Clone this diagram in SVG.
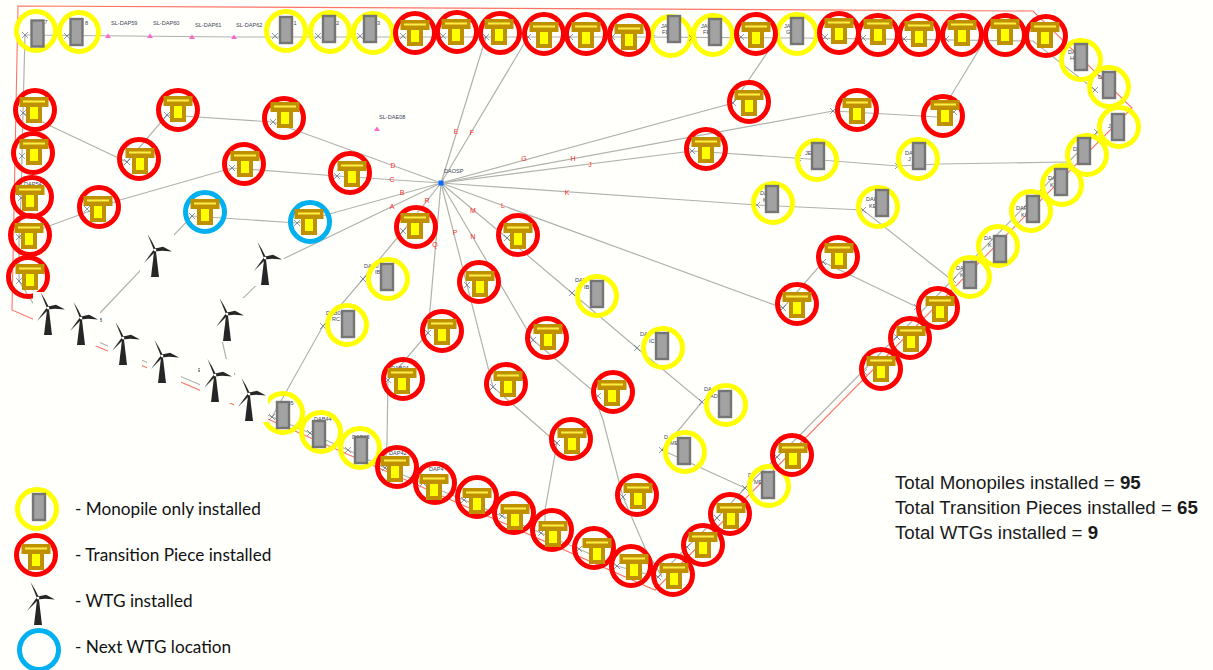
<svg xmlns="http://www.w3.org/2000/svg" xmlns:xlink="http://www.w3.org/1999/xlink" width="1213" height="670" viewBox="0 0 1213 670">
<style>
.bg{fill:#fffffc}
.y,.r,.b{fill:none;stroke-width:5}
.y{stroke:#ffff00}.r{stroke:#ff0000}.b{stroke:#00b0f0}
.c{fill:none;stroke:#b2b2ac;stroke-width:1.2}
.edge{fill:none;stroke:#ff7466;stroke-width:1.1}
.lb{font-family:"Liberation Sans",Arial,sans-serif;font-size:5.6px;fill:#3c4656}
.cb{font-family:"Liberation Sans",Arial,sans-serif;font-size:7px;fill:#ff2a2a;text-anchor:middle}
.tot{font-family:"Liberation Sans",Arial,sans-serif;font-size:18.7px;fill:#1a1a1a}
.lg{font-family:Lato,"Open Sans",sans-serif;font-size:17.2px;fill:#111}
.tri{fill:#ff66cc}
</style>
<defs>
<g id="x"><path d="M-3,-3L3,3M-3,3L3,-3" fill="none" stroke="#5a6a82" stroke-width="0.8" opacity="0.85"/></g>
<g id="mp"><rect x="-6" y="-13" width="12" height="26" fill="#a2a2a2" stroke="#757575" stroke-width="2.4"/></g>
<g id="tp"><rect x="-8" y="-3" width="16" height="16" fill="#ffff00"/><path d="M-8,-3H-4V9H4V-3H8V13H-8Z" fill="#bf9000"/><rect x="-14.5" y="-13" width="29" height="10" fill="#bf9000"/><rect x="-11" y="-9.5" width="22" height="2" fill="#ffee44"/></g>
<g id="wt"><rect x="-15" y="-16" width="34" height="44" class="bg"/><path d="M-1,2H1L4,27H-4Z" fill="#262626"/><path d="M-1.5,-1L-7.5,-16L-3,-8.5L1,-0.5Z" fill="#262626"/><path d="M0,-1.5L8,-3.2L17,1.5L7,0.8L0,1.5Z" fill="#262626"/><path d="M-1,-0.8L-11,13L-4.5,6.5L1,1Z" fill="#262626"/><circle r="1.3" fill="#fffffc"/></g>
</defs>
<rect class="bg" width="1213" height="670"/>
<g id="connectors">
<path class="edge" d="M18,6L1033,11L1132,108L655,590L270,420L35,320L12,310Z"/>
<polyline class="c" points="25,35 234,37 640,37 800,38 1033,41 1095,90"/>
<polyline class="c" points="25,35 23,113 22,156 21,198 19,237 19,281 33,303 63,327 196,383 272,417 310,433 348,450 385,468 423,483 464,500 502,516 541,533 579,549 617,566 658,577 687,547 717,518 745,488 777,457 800,435 1097,133"/>
<polyline class="c" points="441,183 486,37"/>
<polyline class="c" points="441,183 528,37"/>
<polyline class="c" points="441,183 733,103 767,53"/>
<polyline class="c" points="441,183 833,111 938,117 983,43"/>
<polyline class="c" points="441,183 692,151 795,158 898,166 940,164 1067,162"/>
<polyline class="c" points="441,183 757,205 863,210 948,277"/>
<polyline class="c" points="441,183 783,308 823,262 917,307"/>
<polyline class="c" points="441,183 507,238 572,293 637,348 702,402 662,450 745,488"/>
<polyline class="c" points="441,183 533,340 592,390 603,420 623,497 645,548 662,577"/>
<polyline class="c" points="441,183 493,387 557,443 545,510 545,528"/>
<polyline class="c" points="441,183 428,333 388,380 387,443 385,468"/>
<polyline class="c" points="441,183 403,231 363,279 323,326 272,417"/>
<polyline class="c" points="441,183 283,259 227,314 222,340 226,358 235,375"/>
<polyline class="c" points="441,183 297,223 192,216 100,313"/>
<polyline class="c" points="441,183 337,176 232,168 120,200 19,237"/>
<polyline class="c" points="441,183 273,122 167,115 127,162 23,113"/>
</g>
<g id="site-marks">
<path class="tri" d="M108,33.5l3,4.5h-6zM150,33.5l3,4.5h-6zM192,34.5l3,4.5h-6zM234,34.5l3,4.5h-6zM377,126.500l3,4.500h-6z"/>
<text class="lb" x="111" y="25">SL-DAP59</text><text class="lb" x="153" y="25">SL-DAP60</text><text class="lb" x="195" y="26.500">SL-DAP61</text><text class="lb" x="236" y="26.500">SL-DAP62</text><text class="lb" x="379" y="118.500">SL-DAE08</text>
<text class="lb" x="444" y="173">DAOSP</text>
<rect x="438.500" y="180.500" width="5" height="5" fill="#0a6cff"/>
<text class="cb" x="456" y="134">E</text><text class="cb" x="472" y="135">F</text><text class="cb" x="524" y="161">G</text><text class="cb" x="573" y="161">H</text><text class="cb" x="590" y="167">J</text><text class="cb" x="567" y="195">K</text><text class="cb" x="503" y="208">L</text><text class="cb" x="473" y="213">M</text><text class="cb" x="473" y="239">N</text><text class="cb" x="455" y="235">P</text><text class="cb" x="435" y="247">Q</text><text class="cb" x="427" y="203">R</text><text class="cb" x="392" y="209">A</text><text class="cb" x="402" y="195">B</text><text class="cb" x="392" y="182">C</text><text class="cb" x="393" y="168">D</text>
<text class="lb" x="172" y="252">I</text><text class="lb" x="99" y="322">8</text><text class="lb" x="198" y="372">E</text><text class="lb" x="233" y="401">K</text>
</g>
<g id="monopiles">
<g id="m1"><text class="lb" x="44.500" y="24">7</text><use href="#x" x="25" y="35"/><circle class="y" cx="36" cy="31" r="19.500"/><use href="#mp" x="37.500" y="33.500"/></g>
<g id="m2"><text class="lb" x="85" y="25">8</text><use href="#x" x="67" y="36"/><circle class="y" cx="79" cy="32" r="19.500"/><use href="#mp" x="76.500" y="32"/></g>
<g id="m3"><text class="lb" x="293.500" y="25">1</text><use href="#x" x="275" y="36"/><circle class="y" cx="286" cy="31" r="19.500"/><use href="#mp" x="286" y="30"/></g>
<g id="m4"><text class="lb" x="336" y="25">2</text><use href="#x" x="318" y="36"/><circle class="y" cx="330" cy="32" r="19.500"/><use href="#mp" x="329" y="29"/></g>
<g id="m5"><text class="lb" x="377" y="25">3</text><use href="#x" x="360" y="36"/><circle class="y" cx="373" cy="33" r="19.500"/><use href="#mp" x="370" y="29"/></g>
<g id="m6"><text class="lb" x="661" y="28">JAP</text><text class="lb" x="662" y="34">FD</text><use href="#x" x="652" y="38"/><circle class="y" cx="671" cy="36" r="19.500"/><use href="#mp" x="674" y="29"/></g>
<g id="m7"><text class="lb" x="701" y="28">JAP</text><text class="lb" x="703" y="34">FE</text><use href="#x" x="692" y="38"/><circle class="y" cx="713" cy="35" r="19.500"/><use href="#mp" x="715" y="32"/></g>
<g id="m8"><text class="lb" x="784" y="28">JAP</text><text class="lb" x="786" y="34">G</text><circle class="y" cx="797" cy="34" r="19.500"/><use href="#mp" x="797" y="31"/></g>
<g id="m9"><text class="lb" x="1068" y="54">DAP</text><text class="lb" x="1070" y="60">H</text><circle class="y" cx="1081" cy="60" r="19.500"/><use href="#mp" x="1081" y="57"/></g>
<g id="m10"><text class="lb" x="1098" y="79">DA</text><use href="#x" x="1095" y="90"/><circle class="y" cx="1109" cy="87" r="19.500"/><use href="#mp" x="1109" y="85"/></g>
<g id="m11"><text class="lb" x="1108" y="128">J</text><use href="#x" x="1097" y="132"/><circle class="y" cx="1119" cy="127" r="19.500"/><use href="#mp" x="1118" y="127"/></g>
<g id="m12"><text class="lb" x="1073" y="151">D</text><circle class="y" cx="1087" cy="155" r="19.500"/><use href="#mp" x="1084" y="151"/></g>
<g id="m13"><text class="lb" x="1048" y="180">DAF</text><text class="lb" x="1050" y="187">KE</text><circle class="y" cx="1062" cy="185" r="19.500"/><use href="#mp" x="1061" y="182"/></g>
<g id="m14"><text class="lb" x="1016" y="210">DAF</text><text class="lb" x="1021" y="217">KI</text><circle class="y" cx="1031" cy="211" r="19.500"/><use href="#mp" x="1033" y="209"/></g>
<g id="m15"><text class="lb" x="984" y="240">DA</text><text class="lb" x="988" y="247">K</text><circle class="y" cx="998" cy="246" r="19.500"/><use href="#mp" x="1000" y="249"/></g>
<g id="m16"><text class="lb" x="956" y="270">DA</text><text class="lb" x="960" y="277">K</text><use href="#x" x="953" y="280"/><circle class="y" cx="970" cy="277" r="19.500"/><use href="#mp" x="970" y="275"/></g>
<g id="m17"><text class="lb" x="805" y="155">JE</text><use href="#x" x="798" y="158"/><circle class="y" cx="817" cy="160" r="19.500"/><use href="#mp" x="818" y="156"/></g>
<g id="m18"><text class="lb" x="905" y="155">DA</text><text class="lb" x="908" y="161">J</text><use href="#x" x="898" y="166"/><circle class="y" cx="918" cy="159" r="19.500"/><use href="#mp" x="919" y="156"/></g>
<g id="m19"><text class="lb" x="866" y="201">DAH</text><text class="lb" x="869" y="208">KE</text><use href="#x" x="863" y="210"/><circle class="y" cx="878" cy="207" r="19.500"/><use href="#mp" x="882" y="203"/></g>
<g id="m20"><text class="lb" x="760" y="195">DA</text><text class="lb" x="763" y="202">K</text><use href="#x" x="757" y="205"/><circle class="y" cx="773" cy="203" r="19.500"/><use href="#mp" x="772" y="199"/></g>
<g id="m21"><text class="lb" x="364" y="268">DAB0</text><text class="lb" x="375" y="274">IB</text><use href="#x" x="363" y="279"/><circle class="y" cx="388" cy="279" r="19.500"/><use href="#mp" x="387" y="277"/></g>
<g id="m22"><text class="lb" x="326" y="315">DAB0</text><text class="lb" x="332" y="321">RC</text><use href="#x" x="323" y="326"/><circle class="y" cx="347" cy="325" r="19.500"/><use href="#mp" x="348" y="324"/></g>
<g id="m23"><text class="lb" x="575" y="282">DAP</text><text class="lb" x="584" y="289">IB</text><use href="#x" x="572" y="293"/><circle class="y" cx="597" cy="296" r="19.500"/><use href="#mp" x="597" y="294"/></g>
<g id="m24"><text class="lb" x="640" y="336">DAP</text><text class="lb" x="649" y="343">IC</text><use href="#x" x="637" y="348"/><circle class="y" cx="663" cy="348" r="19.500"/><use href="#mp" x="662" y="346"/></g>
<g id="m25"><text class="lb" x="704" y="391">DA</text><text class="lb" x="710" y="398">AD</text><use href="#x" x="702" y="402"/><circle class="y" cx="726" cy="405" r="19.500"/><use href="#mp" x="725" y="404"/></g>
<g id="m26"><text class="lb" x="664" y="439">D</text><text class="lb" x="670" y="445">ME</text><use href="#x" x="662" y="450"/><circle class="y" cx="685" cy="452" r="19.500"/><use href="#mp" x="684" y="451"/></g>
<g id="m27"><text class="lb" x="748" y="477">D</text><text class="lb" x="754" y="484">ME</text><use href="#x" x="745" y="488"/><circle class="y" cx="769" cy="486" r="19.500"/><use href="#mp" x="768" y="485"/></g>
<g id="m28"><text class="lb" x="276" y="405">DAB05</text><use href="#x" x="272" y="417"/><circle class="y" cx="283" cy="413" r="19.500"/><use href="#mp" x="283" y="415"/></g>
<g id="m29"><text class="lb" x="314" y="421">DAB44</text><use href="#x" x="310" y="433"/><circle class="y" cx="321" cy="432" r="19.500"/><use href="#mp" x="319" y="434"/></g>
<g id="m30"><text class="lb" x="352" y="439">DAB03</text><use href="#x" x="348" y="450"/><circle class="y" cx="360" cy="448" r="19.500"/><use href="#mp" x="361" y="450"/></g>
</g>
<g id="transition-pieces">
<g id="t1"><use href="#x" x="403" y="36"/><circle class="r" cx="415" cy="33" r="19.500"/><use href="#tp" x="415" y="33"/></g>
<g id="t2"><use href="#x" x="443" y="36"/><circle class="r" cx="457" cy="32" r="19.500"/><use href="#tp" x="456" y="32"/></g>
<g id="t3"><use href="#x" x="486" y="37"/><circle class="r" cx="500" cy="33" r="19.500"/><use href="#tp" x="499" y="32"/></g>
<g id="t4"><use href="#x" x="528" y="37"/><circle class="r" cx="544" cy="34" r="19.500"/><use href="#tp" x="544" y="35"/></g>
<g id="t5"><use href="#x" x="570" y="37"/><circle class="r" cx="586" cy="34" r="19.500"/><use href="#tp" x="586" y="35"/></g>
<g id="t6"><use href="#x" x="612" y="37"/><circle class="r" cx="629" cy="35" r="19.500"/><use href="#tp" x="629" y="37"/></g>
<g id="t7"><use href="#x" x="741" y="37"/><circle class="r" cx="756" cy="34" r="19.500"/><use href="#tp" x="756" y="35"/></g>
<g id="t8"><use href="#x" x="825" y="37"/><circle class="r" cx="839" cy="33" r="19.500"/><use href="#tp" x="839" y="31"/></g>
<g id="t9"><use href="#x" x="863" y="38"/><circle class="r" cx="878" cy="35" r="19.500"/><use href="#tp" x="878" y="32"/></g>
<g id="t10"><use href="#x" x="904" y="39"/><circle class="r" cx="919" cy="35" r="19.500"/><use href="#tp" x="919" y="34"/></g>
<g id="t11"><use href="#x" x="946" y="39"/><circle class="r" cx="962" cy="35" r="19.500"/><use href="#tp" x="962" y="33"/></g>
<g id="t12"><circle class="r" cx="1005" cy="35" r="19.500"/><use href="#tp" x="1005" y="32"/></g>
<g id="t13"><circle class="r" cx="1046" cy="36" r="19.500"/><use href="#tp" x="1045" y="35"/></g>
<g id="t14"><use href="#x" x="733" y="103"/><circle class="r" cx="749" cy="102" r="19.500"/><use href="#tp" x="749" y="103"/></g>
<g id="t15"><use href="#x" x="692" y="151"/><circle class="r" cx="706" cy="149" r="19.500"/><use href="#tp" x="706" y="150"/></g>
<g id="t16"><use href="#x" x="833" y="111"/><circle class="r" cx="857" cy="110" r="19.500"/><use href="#tp" x="857" y="111"/></g>
<g id="t17"><use href="#x" x="954" y="112"/><circle class="r" cx="943" cy="116" r="19.500"/><use href="#tp" x="945" y="113"/></g>
<g id="t18"><use href="#x" x="23" y="113"/><circle class="r" cx="35" cy="110" r="19.500"/><use href="#tp" x="34" y="110"/></g>
<g id="t19"><use href="#x" x="22" y="156"/><circle class="r" cx="33" cy="153" r="19.500"/><use href="#tp" x="34" y="152"/></g>
<g id="t20"><text class="lb" x="24" y="186">DAP54</text><use href="#x" x="21" y="198"/><circle class="r" cx="32" cy="197" r="19.500"/><use href="#tp" x="30" y="198"/></g>
<g id="t21"><use href="#x" x="19" y="237"/><circle class="r" cx="30" cy="235" r="19.500"/><use href="#tp" x="29" y="236"/></g>
<g id="t22"><use href="#x" x="19" y="281"/><circle class="r" cx="28" cy="277" r="19.500"/><use href="#tp" x="30" y="277"/></g>
<g id="t23"><use href="#x" x="87" y="209"/><circle class="r" cx="99" cy="207" r="19.500"/><use href="#tp" x="98" y="209"/></g>
<g id="t24"><use href="#x" x="127" y="162"/><circle class="r" cx="139" cy="159" r="19.500"/><use href="#tp" x="140" y="161"/></g>
<g id="t25"><use href="#x" x="167" y="115"/><circle class="r" cx="178" cy="110" r="19.500"/><use href="#tp" x="178" y="109"/></g>
<g id="t26"><use href="#x" x="273" y="122"/><circle class="r" cx="284" cy="118" r="19.500"/><use href="#tp" x="285" y="115"/></g>
<g id="t27"><use href="#x" x="232" y="168"/><circle class="r" cx="244" cy="164" r="19.500"/><use href="#tp" x="245" y="164"/></g>
<g id="t28"><use href="#x" x="337" y="176"/><circle class="r" cx="350" cy="173" r="19.500"/><use href="#tp" x="352" y="174"/></g>
<g id="t29"><use href="#x" x="403" y="231"/><circle class="r" cx="416" cy="227" r="19.500"/><use href="#tp" x="415" y="226"/></g>
<g id="t30"><use href="#x" x="507" y="238"/><circle class="r" cx="518" cy="235" r="19.500"/><use href="#tp" x="518" y="236"/></g>
<g id="t31"><use href="#x" x="467" y="285"/><circle class="r" cx="479" cy="282" r="19.500"/><use href="#tp" x="480" y="284"/></g>
<g id="t32"><use href="#x" x="428" y="333"/><circle class="r" cx="442" cy="331" r="19.500"/><use href="#tp" x="442" y="332"/></g>
<g id="t33"><use href="#x" x="533" y="340"/><circle class="r" cx="547" cy="338" r="19.500"/><use href="#tp" x="548" y="337"/></g>
<g id="t34"><text class="lb" x="391" y="370">DAB04</text><use href="#x" x="388" y="380"/><circle class="r" cx="403" cy="379" r="19.500"/><use href="#tp" x="402" y="381"/></g>
<g id="t35"><use href="#x" x="493" y="387"/><circle class="r" cx="506" cy="384" r="19.500"/><use href="#tp" x="508" y="384"/></g>
<g id="t36"><use href="#x" x="598" y="396"/><circle class="r" cx="613" cy="392" r="19.500"/><use href="#tp" x="612" y="393"/></g>
<g id="t37"><use href="#x" x="557" y="443"/><circle class="r" cx="571" cy="439" r="19.500"/><use href="#tp" x="572" y="441"/></g>
<g id="t38"><use href="#x" x="623" y="497"/><circle class="r" cx="637" cy="495" r="19.500"/><use href="#tp" x="638" y="496"/></g>
<g id="t39"><text class="lb" x="389" y="455">DAP42</text><use href="#x" x="385" y="468"/><circle class="r" cx="397" cy="467" r="19.500"/><use href="#tp" x="395" y="469"/></g>
<g id="t40"><text class="lb" x="429" y="471">DAP4</text><use href="#x" x="423" y="483"/><circle class="r" cx="435" cy="483" r="19.500"/><use href="#tp" x="434" y="487"/></g>
<g id="t41"><use href="#x" x="464" y="500"/><circle class="r" cx="477" cy="497" r="19.500"/><use href="#tp" x="477" y="501"/></g>
<g id="t42"><use href="#x" x="502" y="516"/><circle class="r" cx="514" cy="513" r="19.500"/><use href="#tp" x="515" y="517"/></g>
<g id="t43"><use href="#x" x="541" y="533"/><circle class="r" cx="552" cy="530" r="19.500"/><use href="#tp" x="553" y="534"/></g>
<g id="t44"><use href="#x" x="579" y="549"/><circle class="r" cx="594" cy="548" r="19.500"/><use href="#tp" x="597" y="551"/></g>
<g id="t45"><use href="#x" x="617" y="566"/><circle class="r" cx="631" cy="566" r="19.500"/><use href="#tp" x="634" y="567"/></g>
<g id="t46"><use href="#x" x="658" y="577"/><circle class="r" cx="673" cy="575" r="19.500"/><use href="#tp" x="674" y="576"/></g>
<g id="t47"><use href="#x" x="687" y="547"/><circle class="r" cx="703" cy="545" r="19.500"/><use href="#tp" x="703" y="545"/></g>
<g id="t48"><use href="#x" x="717" y="518"/><circle class="r" cx="730" cy="514" r="19.500"/><use href="#tp" x="731" y="516"/></g>
<g id="t49"><use href="#x" x="777" y="457"/><circle class="r" cx="792" cy="455" r="19.500"/><use href="#tp" x="793" y="456"/></g>
<g id="t50"><use href="#x" x="783" y="308"/><circle class="r" cx="797" cy="304" r="19.500"/><use href="#tp" x="797" y="305"/></g>
<g id="t51"><use href="#x" x="823" y="262"/><circle class="r" cx="838" cy="257" r="19.500"/><use href="#tp" x="839" y="256"/></g>
<g id="t52"><use href="#x" x="917" y="307"/><circle class="r" cx="938" cy="308" r="19.500"/><use href="#tp" x="940" y="309"/></g>
<g id="t53"><use href="#x" x="897" y="337"/><circle class="r" cx="910" cy="338" r="19.500"/><use href="#tp" x="911" y="339"/></g>
<g id="t54"><use href="#x" x="864" y="372"/><circle class="r" cx="881" cy="369" r="19.500"/><use href="#tp" x="881" y="369"/></g>
</g>
<g id="next-locations">
<g id="n1"><use href="#x" x="192" y="216"/><circle class="b" cx="205" cy="212" r="19.500"/><use href="#tp" x="205" y="212"/></g>
<g id="n2"><use href="#x" x="297" y="223"/><circle class="b" cx="310" cy="222" r="19.500"/><use href="#tp" x="309" y="222"/></g>
</g>
<g id="turbines">
<use id="w1" href="#wt" x="48" y="308"/><use id="w2" href="#wt" x="81" y="318"/><use id="w3" href="#wt" x="123" y="338"/><use id="w4" href="#wt" x="162" y="356"/><use id="w5" href="#wt" x="215" y="375"/><use id="w6" href="#wt" x="249" y="394"/><use id="w7" href="#wt" x="155" y="250"/><use id="w8" href="#wt" x="265" y="258"/><use id="w9" href="#wt" x="227" y="314"/>
</g>
<g id="legend">
<g id="lg1"><circle class="y" cx="37" cy="509" r="19.500"/><use href="#mp" x="39" y="507"/><text class="lg" x="75" y="515">- Monopile only installed</text></g>
<g id="lg2"><circle class="r" cx="36" cy="555" r="19.500"/><use href="#tp" x="36" y="557"/><text class="lg" x="75" y="561">- Transition Piece installed</text></g>
<g id="lg3"><use href="#wt" x="38" y="598"/><text class="lg" x="75" y="607">- WTG installed</text></g>
<g id="lg4"><circle class="b" cx="39" cy="650" r="19.500"/><text class="lg" x="75" y="653">- Next WTG location</text></g>
</g>
<g id="totals">
<text class="tot" x="895" y="489">Total Monopiles installed = <tspan font-weight="bold">95</tspan></text>
<text class="tot" x="895" y="514">Total Transition Pieces installed = <tspan font-weight="bold">65</tspan></text>
<text class="tot" x="895" y="539">Total WTGs installed = <tspan font-weight="bold">9</tspan></text>
</g>
</svg>
